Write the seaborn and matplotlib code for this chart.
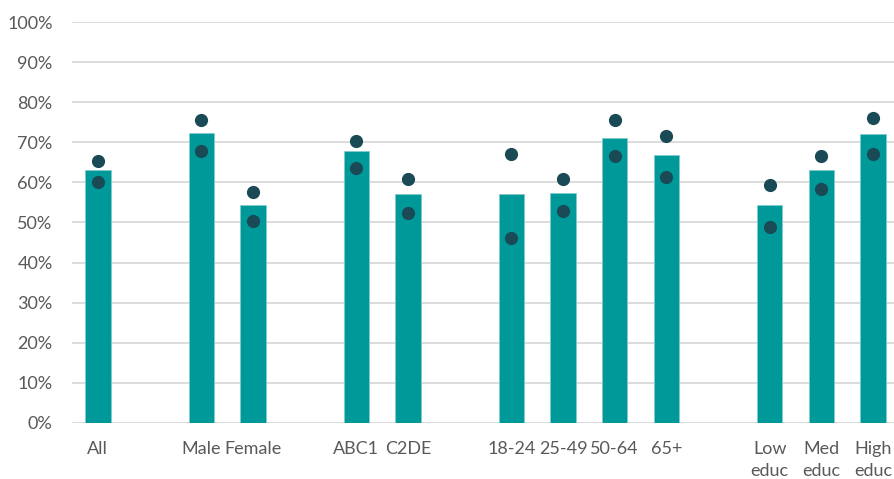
import matplotlib
matplotlib.use("Agg")
import matplotlib.pyplot as plt
import seaborn as sns
import pandas as pd
import numpy as np
from matplotlib.ticker import PercentFormatter

# ---- data ----
groups = [
    ["All"],
    ["Male", "Female"],
    ["ABC1", "C2DE"],
    ["18-24", "25-49", "50-64", "65+"],
    ["Low\neduc", "Med\neduc", "High\neduc"],
]
bar_values = [63.0, 72.4, 54.4, 67.8, 57.0, 57.0, 57.4, 71.1, 66.8, 54.4, 63.0, 72.0]
dot_upper = [65.3, 75.6, 57.6, 70.4, 60.9, 67.0, 60.9, 75.6, 71.7, 59.3, 66.5, 76.0]
dot_lower = [60.1, 67.9, 50.4, 63.5, 52.4, 46.1, 52.9, 66.6, 61.4, 49.0, 58.4, 67.0]
y_ticks = [0, 10, 20, 30, 40, 50, 60, 70, 80, 90, 100]

# ---- slot order with empty gaps between groups ----
categories = [c for g in groups for c in g]
order = []
for i, g in enumerate(groups):
    if i > 0:
        order.append(" " * i)
    order.extend(g)

bar_df = pd.DataFrame({"cat": categories, "value": np.array(bar_values) / 100})
dot_df = pd.DataFrame({
    "cat": categories * 2,
    "value": np.array(dot_upper + dot_lower) / 100,
})

sns.set_theme(style="white")
plt.rcParams["font.family"] = ["Lato", "DejaVu Sans"]

TEXT = "#595959"
fig = plt.figure(figsize=(8.94, 4.79), dpi=100)
W, H = 894, 479
left_px, right_px = 72, 899
bottom_px, top_px = 422.7, 22.3
ax = fig.add_axes([left_px / W, (H - bottom_px) / H,
                   (right_px - left_px) / W, (bottom_px - top_px) / H])

sns.barplot(data=bar_df, x="cat", y="value", order=order, color="#009999",
            width=0.49, edgecolor="#7fcccc", linewidth=0.6, saturation=1,
            ax=ax, zorder=3)
sns.stripplot(data=dot_df, x="cat", y="value", order=order, jitter=False,
              color="#1b4a57", size=9.5, linewidth=0, ax=ax, zorder=4)

ax.set_xlim(-0.5, len(order) - 0.5)
ax.set_ylim(0, 1.0)
ax.set_yticks(np.array(y_ticks) / 100)
ax.yaxis.set_major_formatter(PercentFormatter(1.0, decimals=0))
ax.grid(axis="y", color="#d9d9d9", linewidth=1.3, zorder=0)
ax.set_axisbelow(True)
for s in ax.spines.values():
    s.set_visible(False)
ax.set_xlabel("")
ax.set_ylabel("")
ax.tick_params(axis="both", length=0, labelsize=13, colors=TEXT)
ax.tick_params(axis="x", pad=13)
ax.tick_params(axis="y", pad=14)
for lab in ax.get_xticklabels():
    lab.set_linespacing(1.5)
    lab.set_verticalalignment("top")

fig.savefig("out.png", dpi=100)
